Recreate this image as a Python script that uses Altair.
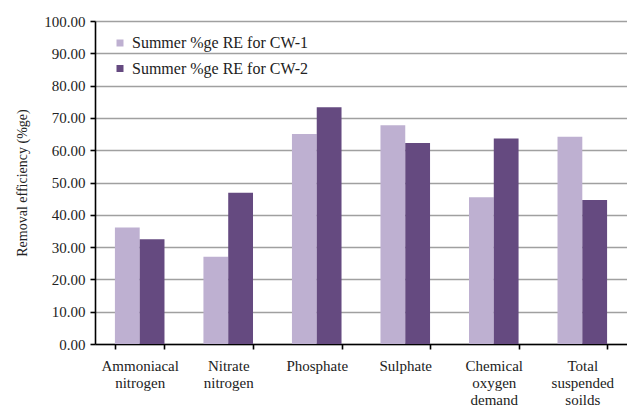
import altair as alt
import pandas as pd

categories = ["Ammoniacal nitrogen", "Nitrate nitrogen", "Phosphate", "Sulphate",
              "Chemical oxygen demand", "Total suspended soilds"]
series = ["Summer %ge RE for CW-1", "Summer %ge RE for CW-2"]
cw1 = [36.1, 27.0, 65.0, 67.7, 45.4, 64.2]
cw2 = [32.4, 46.8, 73.3, 62.2, 63.6, 44.6]
colors = ["#BEB0D1", "#654A80"]

rows = []
for c, a, b in zip(categories, cw1, cw2):
    rows.append({"cat": c, "series": series[0], "value": a})
    rows.append({"cat": c, "series": series[1], "value": b})
df = pd.DataFrame(rows)

font = "Liberation Serif"

chart = alt.Chart(df).mark_bar().encode(
    x=alt.X("cat:N", sort=categories, title=None,
            scale=alt.Scale(paddingInner=0.44, paddingOuter=0.225),
            axis=alt.Axis(labelAngle=0, labelExpr="split(datum.label, ' ')",
                          tickBand="extent", labelPadding=9, labelFontSize=15,
                          labelColor="#222", domainColor="#000", tickColor="#000",
                          tickSize=5, labelLineHeight=17, labelBaseline="top")),
    xOffset=alt.XOffset("series:N", sort=series),
    y=alt.Y("value:Q", title="Removal efficiency (%ge)",
            scale=alt.Scale(domain=[0, 100]),
            axis=alt.Axis(values=list(range(0, 101, 10)), format=".2f",
                          labelFontSize=15, labelColor="#222", domainColor="#000",
                          tickColor="#000", tickSize=5, labelPadding=5,
                          titleFontSize=14, titleFontWeight="normal",
                          titleColor="#222", titlePadding=14,
                          gridColor="#A0A0A0", gridWidth=1.3)),
    color=alt.Color("series:N", sort=series,
                    scale=alt.Scale(domain=series, range=colors),
                    legend=alt.Legend(title=None, orient="none", legendX=17, legendY=14,
                                      symbolType="square", symbolSize=49,
                                      symbolStrokeWidth=0, labelFontSize=16,
                                      labelColor="#222", rowPadding=9.5,
                                      labelOffset=4, labelLimit=0)),
).properties(
    width=532, height=323,
    autosize=alt.AutoSizeParams(type="none"),
    padding={"left": 87, "top": 13, "right": 0, "bottom": 70},
).configure(font=font).configure_view(
    stroke=None
).configure_axis(labelFont=font, titleFont=font, domainWidth=1.6, tickWidth=1.6
).configure_legend(labelFont=font)

chart.save("out.html", embed_options={"renderer": "svg", "actions": False})
